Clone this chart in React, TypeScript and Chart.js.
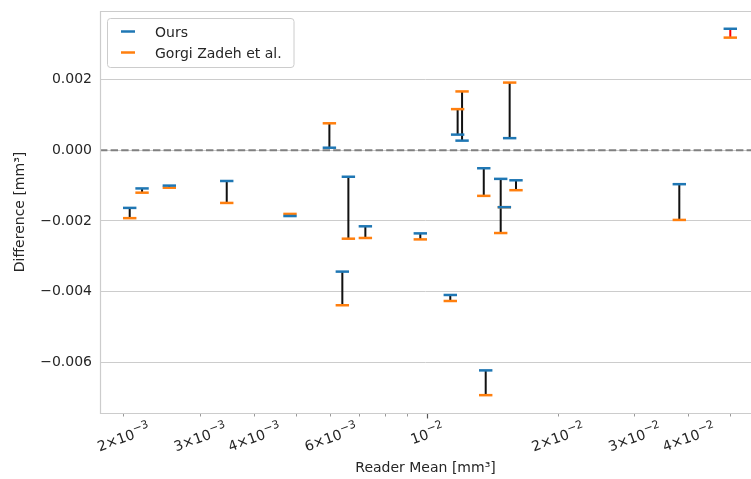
import React, { useEffect, useRef } from "react";
import { Chart, registerables } from "chart.js";

Chart.register(...registerables);

// ---- Data ----
const readerMean = [
  2.072e-3, 2.212e-3, 2.556e-3, 3.465e-3, 4.845e-3, 5.97e-3, 6.602e-3, 6.394e-3,
  7.224e-3, 9.666e-3, 1.133e-2, 1.178e-2, 1.206e-2, 1.552e-2, 1.353e-2, 1.48e-2,
  1.509e-2, 1.605e-2, 1.367e-2, 3.814e-2, 4.997e-2,
];
const oursDiff = [
  -0.00163, -0.00108, -0.001, -0.00087, -0.00186, 0.00007, -0.00075, -0.00343,
  -0.00215, -0.00235, -0.00409, 0.00044, 0.00027, 0.00034, -0.00051, -0.00081,
  -0.00161, -0.00085, -0.00622, -0.00096, 0.00343,
];
const gorgiDiff = [
  -0.00192, -0.0012, -0.00106, -0.00149, -0.0018, 0.00076, -0.0025, -0.00438,
  -0.00248, -0.00252, -0.00426, 0.00116, 0.00166, 0.00191, -0.00129, -0.00234,
  -0.00161, -0.00113, -0.00692, -0.00197, 0.00318,
];
const seriesNames = ["Ours", "Gorgi Zadeh et al."];

const yTickValues = [-0.006, -0.004, -0.002, 0, 0.002];
const xMajorTicks = [1e-2];
const xMinorTicks = [2e-3, 3e-3, 4e-3, 5e-3, 6e-3, 7e-3, 8e-3, 9e-3, 2e-2, 3e-2, 4e-2, 5e-2];
const xTickLabels: [number, string, string][] = [
  [2e-3, "2", "3"],
  [3e-3, "3", "3"],
  [4e-3, "4", "3"],
  [6e-3, "6", "3"],
  [1e-2, "", "2"],
  [2e-2, "2", "2"],
  [3e-2, "3", "2"],
  [4e-2, "4", "2"],
];
const X_MIN = 1.7701e-3;
const X_MAX = 0.055768;
const Y_MIN = -0.007424;
const Y_MAX = 0.003932;

const FAMILY = "'DejaVu Sans', 'Liberation Sans', sans-serif";
const TEXT = "#262626";
const BLUE = "#1f77b4";
const ORANGE = "#ff7f0e";
const SPINE = "#cccccc";

function worse(i: number) {
  return Math.abs(oursDiff[i]) > Math.abs(gorgiDiff[i]);
}

function connectorData(red: boolean) {
  const out: { x: number; y: number | null }[] = [];
  readerMean.forEach((x, i) => {
    if (worse(i) !== red) return;
    out.push({ x, y: oursDiff[i] }, { x, y: gorgiDiff[i] }, { x, y: null });
  });
  return out;
}

function drawSciLabel(ctx: CanvasRenderingContext2D, x: number, topY: number, mant: string, exp: string) {
  const baseFont = `14px ${FAMILY}`;
  const supFont = `11px ${FAMILY}`;
  const base = mant ? `${mant}\u00d710` : "10";
  const sup = `\u2212${exp}`;
  ctx.font = baseFont;
  const wb = ctx.measureText(base).width;
  ctx.font = supFont;
  const ws = ctx.measureText(sup).width;
  const W = wb + ws;
  const H = 15;
  const th = (20 * Math.PI) / 180;
  const bboxH = W * Math.sin(th) + H * Math.cos(th);
  const cy = topY + bboxH / 2;
  ctx.save();
  ctx.translate(x, cy);
  ctx.rotate(-th);
  ctx.fillStyle = TEXT;
  ctx.textAlign = "left";
  ctx.textBaseline = "alphabetic";
  const bl = 6;
  ctx.font = baseFont;
  ctx.fillText(base, -W / 2, bl);
  ctx.font = supFont;
  ctx.fillText(sup, -W / 2 + wb + 0.5, bl - 6);
  ctx.restore();
}

const customPlugin = {
  id: "customDecor",
  beforeDatasetsDraw(chart: any) {
    const { ctx, chartArea, scales } = chart;
    const y0 = scales.y.getPixelForValue(0);
    ctx.save();
    ctx.strokeStyle = "#808080";
    ctx.lineWidth = 2;
    ctx.setLineDash([7.4, 3.2]);
    ctx.beginPath();
    ctx.moveTo(chartArea.left, y0);
    ctx.lineTo(chartArea.right, y0);
    ctx.stroke();
    ctx.restore();
  },
  afterDraw(chart: any) {
    const { ctx, chartArea, scales } = chart;
    const xs = scales.x;
    ctx.save();
    // spines
    ctx.strokeStyle = SPINE;
    ctx.lineWidth = 1.2;
    ctx.beginPath();
    ctx.moveTo(chartArea.left + 0.5, chartArea.top + 0.5);
    ctx.lineTo(chartArea.right, chartArea.top + 0.5);
    ctx.moveTo(chartArea.left + 0.5, chartArea.top);
    ctx.lineTo(chartArea.left + 0.5, chartArea.bottom + 0.5);
    ctx.lineTo(chartArea.right, chartArea.bottom + 0.5);
    ctx.stroke();
    // x ticks
    const by = chartArea.bottom + 1;
    ctx.lineWidth = 1;
    ctx.strokeStyle = "#999999";
    xMinorTicks.forEach((v) => {
      const px = Math.round(xs.getPixelForValue(v)) + 0.5;
      ctx.beginPath();
      ctx.moveTo(px, by);
      ctx.lineTo(px, by + 2.5);
      ctx.stroke();
    });
    ctx.strokeStyle = "#555555";
    ctx.lineWidth = 1.2;
    xMajorTicks.forEach((v) => {
      const px = Math.round(xs.getPixelForValue(v)) + 0.5;
      ctx.beginPath();
      ctx.moveTo(px, by);
      ctx.lineTo(px, by + 4.5);
      ctx.stroke();
    });
    // x tick labels
    xTickLabels.forEach(([v, m, e]) => {
      drawSciLabel(ctx, xs.getPixelForValue(v), chartArea.bottom + 7, m, e);
    });
    // legend
    const lx = 107.5, ly = 18.5, lw = 186.5, lh = 49;
    ctx.fillStyle = "rgba(255,255,255,0.85)";
    ctx.strokeStyle = SPINE;
    ctx.lineWidth = 1;
    ctx.beginPath();
    (ctx as any).roundRect(lx, ly, lw, lh, 3);
    ctx.fill();
    ctx.stroke();
    const colors = [BLUE, ORANGE];
    const rows = [31.5, 52.5];
    seriesNames.forEach((name, i) => {
      ctx.strokeStyle = colors[i];
      ctx.lineWidth = 2.5;
      ctx.beginPath();
      ctx.moveTo(121, rows[i]);
      ctx.lineTo(135, rows[i]);
      ctx.stroke();
      ctx.fillStyle = TEXT;
      ctx.font = `14px ${FAMILY}`;
      ctx.textAlign = "left";
      ctx.textBaseline = "alphabetic";
      ctx.fillText(name, 155, rows[i] + 5.5);
    });
    ctx.restore();
  },
};

export default function App() {
  const ref = useRef<HTMLCanvasElement>(null);
  useEffect(() => {
    if (!ref.current) return;
    const markerCommon = {
      pointStyle: "line",
      pointRadius: 6.7,
      pointHoverRadius: 6.7,
      pointBorderWidth: 2.5,
      showLine: false,
    };
    const chart = new Chart(ref.current, {
      type: "scatter",
      data: {
        datasets: [
          {
            label: seriesNames[0],
            data: readerMean.map((x, i) => ({ x, y: oursDiff[i] })),
            borderColor: BLUE,
            backgroundColor: BLUE,
            order: 0,
            ...markerCommon,
          } as any,
          {
            label: seriesNames[1],
            data: readerMean.map((x, i) => ({ x, y: gorgiDiff[i] })),
            borderColor: ORANGE,
            backgroundColor: ORANGE,
            order: 1,
            ...markerCommon,
          } as any,
          {
            label: "conn",
            data: connectorData(false),
            showLine: true,
            spanGaps: false,
            borderColor: "#111111",
            borderWidth: 2,
            pointRadius: 0,
            pointHoverRadius: 0,
            order: 2,
          } as any,
          {
            label: "connRed",
            data: connectorData(true),
            showLine: true,
            spanGaps: false,
            borderColor: "#ff0000",
            borderWidth: 2,
            pointRadius: 0,
            pointHoverRadius: 0,
            order: 2,
          } as any,
        ],
      },
      options: {
        animation: false,
        responsive: false,
        devicePixelRatio: 1,
        events: [],
        layout: { autoPadding: false, padding: 0 },
        plugins: {
          legend: { display: false },
          tooltip: { enabled: false },
        },
        scales: {
          x: {
            type: "logarithmic",
            min: X_MIN,
            max: X_MAX,
            afterBuildTicks: (s: any) => {
              s.ticks = [...xMinorTicks, ...xMajorTicks].sort((a, b) => a - b).map((v) => ({ value: v }));
            },
            afterFit: (s: any) => {
              s.height = 66;
              s.paddingLeft = 0;
              s.paddingRight = 0;
            },
            grid: { display: false },
            border: { display: false },
            ticks: { display: false },
            title: {
              display: true,
              text: "Reader Mean [mm\u00b3]",
              color: TEXT,
              font: { family: FAMILY, size: 14 },
              padding: { top: 0, bottom: 2 },
            },
          },
          y: {
            type: "linear",
            min: Y_MIN,
            max: Y_MAX,
            afterBuildTicks: (s: any) => {
              s.ticks = yTickValues.map((v) => ({ value: v }));
            },
            afterFit: (s: any) => {
              s.width = 100;
              s.paddingTop = 11;
              s.paddingBottom = 0;
            },
            grid: { color: SPINE, lineWidth: 1, drawTicks: false },
            border: { display: false },
            ticks: {
              color: TEXT,
              font: { family: FAMILY, size: 14 },
              padding: 8,
              callback: (v: any) => {
                const n = Number(v);
                if (Math.abs(n) < 1e-12) return "0.000";
                return (n < 0 ? "\u2212" : "") + Math.abs(n).toFixed(3);
              },
            },
            title: {
              display: true,
              text: "Difference [mm\u00b3]",
              color: TEXT,
              font: { family: FAMILY, size: 14 },
              padding: { top: 12, bottom: 0 },
            },
          },
        },
      } as any,
      plugins: [customPlugin],
    });
    return () => chart.destroy();
  }, []);
  return (
    <div style={{ position: "fixed", left: 0, top: 0, width: 751, height: 479, background: "#fff", overflow: "hidden" }}>
      <canvas ref={ref} width={751} height={479} style={{ display: "block" }} />
    </div>
  );
}
